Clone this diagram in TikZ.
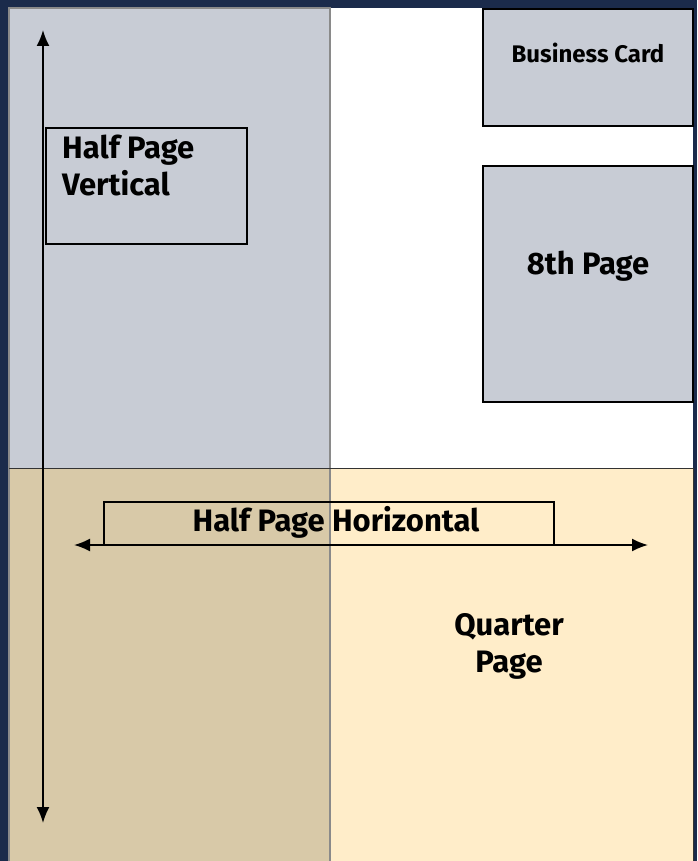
\documentclass[tikz,border=0pt]{standalone}
\usepackage{fontspec}
\setmainfont{Fira Sans}
\usetikzlibrary{arrows.meta}
\definecolor{navy}{HTML}{1B2B4B}
\definecolor{grayb}{HTML}{C8CCD5}
\definecolor{tanb}{HTML}{D8C9A8}
\definecolor{creamb}{HTML}{FFEDC9}
\definecolor{edgegray}{HTML}{8A8A8A}
\tikzset{
  adbox/.style={draw=black, line width=2pt, inner sep=0pt},
  adlbl/.style={font=\bfseries\fontsize{#1}{37}\selectfont, inner sep=0pt, text=black},
  dimarrow/.style={line width=1.8pt, {Latex[length=16pt,width=13pt]}-{Latex[length=16pt,width=13pt]}},
}
\begin{document}
\begin{tikzpicture}[x=1pt,y=-1pt]
\fill[navy] (0,0) rectangle (697,861);
\useasboundingbox (0,0) rectangle (697,861);
% page regions
\fill[white] (330,8) rectangle (693,468);
\fill[creamb] (330,468) rectangle (693,861);
\fill[grayb] (9,8) rectangle (330,468);
\fill[tanb] (9,468) rectangle (330,861);
\draw[edgegray, line width=1.2pt] (9,861) -- (9,8) -- (330,8) -- (330,861);
\draw[black!80, line width=0.9pt] (9,468) -- (693,468) -- (693,861);
% boxes
\node[adbox, fill=grayb, minimum width=210pt, minimum height=117pt, anchor=north west] (bc) at (482,8) {};
\node[adlbl=24] (bct) at ([yshift=-45pt]bc.north) {Business Card};
\node[adbox, fill=grayb, minimum width=210pt, minimum height=236pt, anchor=north west] (eighth) at (482,165) {};
\node[adlbl=31] (eightht) at ([yshift=18pt]eighth.center) {8th Page};
\node[adbox, minimum width=201pt, minimum height=116pt, anchor=north west] (hpv) at (45,127) {};
\node[adlbl=31, align=left, anchor=north west] (hpvt) at ([xshift=17pt,yshift=-8pt]hpv.north west) {Half Page\\Vertical};
\node[adbox, minimum width=450pt, minimum height=43pt, anchor=north west] (hph) at (103,501) {};
\node[adlbl=31] (hpht) at ([xshift=7pt,yshift=1pt]hph.center) {Half Page Horizontal};
\node[adlbl=31, align=center] (qp) at (509,646) {Quarter\\Page};
% dimension arrows
\coordinate (vtop) at (43,30);
\coordinate (vbot) at (43,823);
\coordinate (hl) at (74,545);
\coordinate (hr) at (648,545);
\draw[dimarrow] (vtop) -- (vbot);
\draw[dimarrow] (hl) -- (hr);
\end{tikzpicture}
\end{document}
